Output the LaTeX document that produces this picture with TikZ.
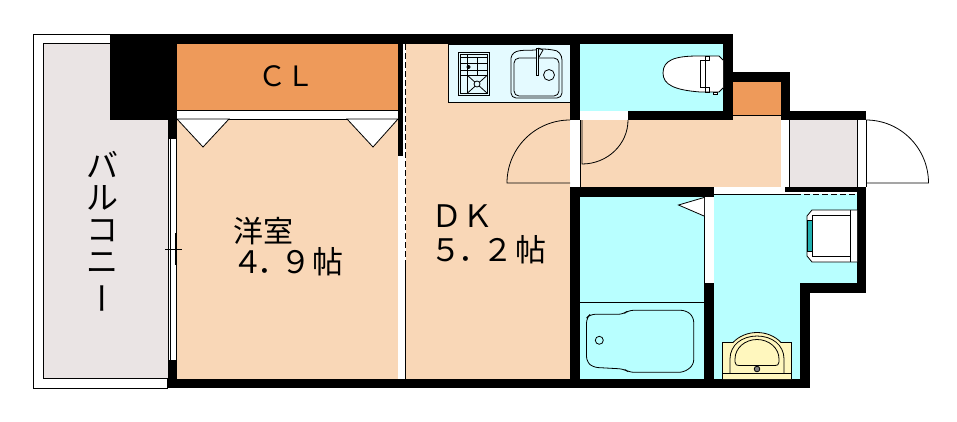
\documentclass[tikz,border=0pt]{standalone}
\usepackage{fontspec}
\newfontfamily\jpfont{Noto Sans CJK JP}
\definecolor{roomcol}{HTML}{F9D7B7}
\definecolor{closetcol}{HTML}{EE9A5A}
\definecolor{wetcol}{HTML}{B8FFFF}
\definecolor{greycol}{HTML}{EAE4E4}
\definecolor{countercol}{HTML}{E4FAFF}
\definecolor{creamcol}{HTML}{FFF7BE}
\definecolor{tealcol}{HTML}{20B0B0}
\tikzset{
  wall/.style={fill=black},
  thin line/.style={draw=black,line width=0.8pt},
  fixture/.style={thin line,fill=white},
  roomtext/.style={inner sep=0pt,font=\jpfont\fontsize{#1}{#1}\selectfont}
}
\begin{document}
\begin{tikzpicture}[x=1pt,y=-1pt]
      \useasboundingbox (0,0) rectangle (957,421);
      \fill[white] (0,0) rectangle (957,421);
      % balcony
      \draw[thin line] (33.5,34.5) rectangle (167.5,388);
      \draw[thin line,fill=greycol] (43.5,43.5) rectangle (168.5,378);
      % rooms
      \fill[roomcol] (177,119) rectangle (398,379); % western room
      \fill[roomcol] (405.5,44) rectangle (570,379); % DK
      \fill[roomcol] (580,115) rectangle (781,187); % hall
      \fill[closetcol] (177,44) rectangle (398,110.5); % CL
      \fill[closetcol] (733,82) rectangle (781,115); % small closet
      \fill[wetcol] (580,44) rectangle (723,111); % toilet
      \fill[wetcol] (580,197) rectangle (704,379); % bath
      \fill[wetcol] (714,194) rectangle (857,283); % wash room
      \fill[wetcol] (714,283) rectangle (800,379);
      \fill[greycol] (790,120) rectangle (857,187); % entrance
      % closet door strip
      \draw[thin line] (177,110.5) -- (398,110.5);
      \draw[thin line] (177,119) -- (398,119);
      \draw[fixture] (177,119) -- (229,119) -- (203,147) -- cycle;
      \draw[fixture] (347,119) -- (398,119) -- (373,147) -- cycle;
      % walls
      \fill[wall] (110,34) rectangle (733,44); % top
      \fill[wall] (110,34) rectangle (177,120); % shaft
      \fill[wall] (168,110) rectangle (177,139);
      \fill[wall] (168,360) rectangle (177,388); % left
      \fill[wall] (168,379) rectangle (810,388); % bottom
      \fill[wall] (398,44) rectangle (402.5,155.5); % CL side
      \fill[wall] (570,44) rectangle (580,120); % kitchen side
      \fill[wall] (628,111) rectangle (733,120); % toilet bottom
      \fill[wall] (723,34) rectangle (733,120); % toilet right
      \fill[wall] (733,72) rectangle (790,82);
      \fill[wall] (781,72) rectangle (790,120);
      \fill[wall] (781,111) rectangle (866,120); % entrance top
      \fill[wall] (570,187) rectangle (714,197); % hall bottom
      \fill[wall] (570,187) rectangle (580,388); % bath left
      \fill[wall] (704,283) rectangle (714,379); % bath right
      \fill[wall] (785,187) rectangle (866,192);
      \fill[wall] (857,187) rectangle (866,293); % wash room right
      \fill[wall] (800,283) rectangle (866,293);
      \fill[wall] (800,283) rectangle (810,388);
      % openings
      \fill[white] (168.5,139) rectangle (177,360); % window
      \draw[thin line] (168.5,139) -- (168.5,378);
      \draw[thin line] (170.5,139) -- (170.5,360);
      \draw[thin line] (176,139) -- (176,360);
      \draw[line width=0.5pt] (165,249.5) -- (182,249.5);
      \draw[line width=0.5pt] (175,233) -- (175,265);
      \fill[white] (398,155.5) rectangle (405.5,379); % sliding door
      \draw[thin line,dash pattern=on 6pt off 3pt] (405,44) -- (405,266);
      \draw[thin line] (405.5,266) -- (405.5,379);
      \fill[white] (580,111) rectangle (628,119.5);
      \fill[white] (570,120) rectangle (580,187);
      \draw[thin line] (580.3,120) -- (580.3,187);
      \fill[white] (781,120) rectangle (789.5,187);
      \draw[thin line] (789.8,120) -- (789.8,187);
      \draw[thin line] (781,115) -- (733,115);
      \fill[white] (857,120) rectangle (866,187);
      \draw[thin line] (857.3,120) -- (857.3,187);
      \draw[thin line] (866,120) -- (866,187);
      \fill[white] (714,187) rectangle (785,194);
      \fill[white] (785,192) rectangle (857,194);
      \draw[thin line] (714,194) -- (795,194);
      \draw[thin line,dash pattern=on 6pt off 3pt] (795,194) -- (857,194);
      \fill[white] (704,197) rectangle (713.5,283);
      \draw[thin line] (704.2,197) -- (704.2,283);
      % doors
      \draw[thin line] (570,183) -- (507,183) arc[start angle=180,end angle=270,radius=63];
      \draw[thin line] (628,120) arc[start angle=0,end angle=90,x radius=46,y radius=44] -- (582,120);
      \draw[thin line] (866,120) arc[start angle=270,end angle=360,x radius=62.5,y radius=63] -- (866,183);
      \draw[thin line,fill=white] (704,197.5) -- (678.5,205) -- (704,216);
      % kitchen
      \draw[thin line,fill=countercol] (448.5,44) rectangle (570,102);
      \draw[thin line] (458.5,52.5) rectangle (489,95);
      \draw[thin line] (460,54) rectangle (487.5,93.5);
      \foreach \ypos in {57,63.5,70,75} {
        \draw[thin line] (460,\ypos) -- (487.5,\ypos);
      }
      \draw[thin line] (467,54) -- (467,93.5);
      \draw[thin line] (477,57) -- (477,75);
      \draw[thin line] (467,75) -- (487.5,93.5);
      \draw[thin line] (487.5,75) -- (467,93.5);
      \draw[thin line,fill=countercol] (477,84) circle (3);
      \fill (468.5,67) circle (2);
      \draw[thin line] (511,58) to[out=80,in=185] (535,50) -- (538,49) to[out=0,in=170] (553,50) to[out=0,in=90] (562,60) -- (562,93) to[out=-90,in=0] (557,98) -- (516,98) to[out=180,in=-90] (511,93) -- cycle;
      \draw[thin line,rounded corners=5pt] (514,58) rectangle (559,96);
      \draw[thin line,fill=countercol] (536,48) rectangle (538.5,75);
      \draw[thin line] (538.5,48) -- (543,50) -- (539,57);
      \draw[thin line] (549,75) circle (5.5);
      % toilet
      \draw[fixture] (723,60) -- (719,56) -- (698,56) .. controls (675,56) and (663,60) .. (663,73) .. controls (663,85) and (675,90) .. (700,92) -- (719,92) -- (723,88);
      \draw[thin line] (700.5,60) rectangle (705,87);
      \draw[thin line] (705,60) rectangle (709.5,56);
      \draw[thin line] (705,87) rectangle (709.5,92);
      \draw[thin line,fill=white] (713,92) rectangle (717,94.5);
      % washing machine
      \draw[fixture] (857,210) -- (812,210) -- (807,216) -- (807,256) -- (812,262) -- (857,262);
      \draw[thin line,fill=tealcol] (807,220.5) rectangle (812.5,251);
      \draw[thin line] (812.5,215.5) rectangle (850.5,256.5);
      \draw[thin line] (850.5,210) -- (850.5,262);
      % basin
      \draw[thin line,fill=creamcol] (722.5,379) -- (722.5,342.5) -- (733,342.5) .. controls (739,336) and (748,332.5) .. (757,332.5) .. controls (766,332.5) and (775,336) .. (781,342.5) -- (791.5,342.5) -- (791.5,379);
      \draw[thin line] (722.5,373.5) -- (791.5,373.5);
      \draw[thin line] (730,373.5) -- (730,359) .. controls (730,345) and (742,336) .. (757,336) .. controls (772,336) and (784,345) .. (784,359) -- (784,373.5);
      \draw[thin line] (735,362) -- (735,359) .. controls (735,348) and (745,339.5) .. (757,339.5) .. controls (769,339.5) and (779,348) .. (779,359) -- (779,362) .. controls (779,365) and (777,365.5) .. (775,365.5) -- (739,365.5) .. controls (737,365.5) and (735,365) .. (735,362);
      \draw[line width=0.8pt,fill=gray] (757,369) circle (2.8);
      % bath tub
      \draw[thin line] (580,302.5) -- (704,302.5);
      \draw[thin line,rounded corners=5pt] (586.5,318) -- (590,314.3) -- (623.3,314.3) -- (628.3,310.3) -- (686,310.3) -- (693.7,317) -- (693.7,365) -- (684,372.3) -- (629,372.3) -- (624,369) -- (593,367.3) -- (586.5,361.5) -- cycle;
      \draw[thin line] (599.3,340.3) circle (4);
      % labels
      \node[roomtext=28] (clLabel) at (286,76.5) {ＣＬ};
      \node[roomtext=30] (roomA) at (263,231) {洋室};
      \node[roomtext=31] (roomAsize) at (288,262) {４\kern-6pt．\kern-8pt９\kern1pt帖};
      \node[roomtext=31] (dkA) at (462,216) {ＤＫ};
      \node[roomtext=31] (dkAsize) at (488.5,250) {５\kern-3pt．\kern-7pt２\kern2pt帖};
      \node[roomtext=32,align=center] (balcony) at (102,233) {\baselineskip=34.5pt バ\\ル\\コ\\ニ\\\hspace*{11pt}\rotatebox[origin=c]{90}{ー}};
    \end{tikzpicture}
\end{document}
